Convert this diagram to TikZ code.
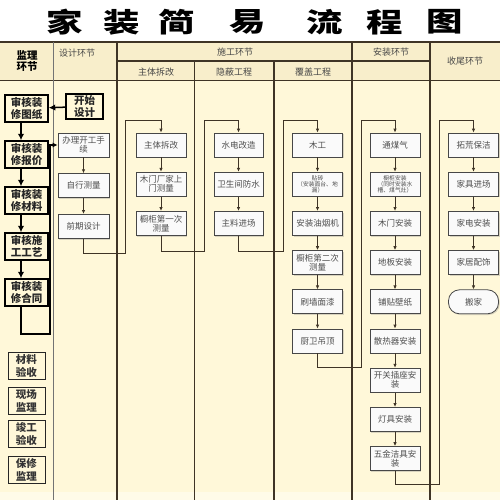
\documentclass[tikz,border=0pt]{standalone}
\usepackage{fontspec}
\setmainfont{Noto Sans CJK SC}
\usetikzlibrary{positioning,arrows.meta,shadows}
\definecolor{paper}{HTML}{FFF8D9}
\definecolor{headfill}{HTML}{F8EECB}
\definecolor{rule}{HTML}{3F3426}
\definecolor{boxtext}{HTML}{4E4E4E}
\tikzset{
  lane/.style={draw=rule, line width=1.1pt},
  headtext/.style={text=black!72, font=\fontsize{9}{10}\selectfont},
  stepbox/.style={draw=black!72, line width=0.8pt, fill=white!96!gray, text=boxtext,
    minimum width=50pt, minimum height=24pt, inner sep=1pt, align=center,
    font=\fontsize{8.5}{9}\selectfont,
    drop shadow={opacity=0.3, shadow xshift=1.2pt, shadow yshift=-1.2pt}},
  smallstep/.style={stepbox, font=\fontsize{5.8}{6.3}\selectfont},
  checkbox/.style={draw=black, line width=1.5pt, fill=paper, minimum width=43pt,
    minimum height=27pt, inner sep=1pt, align=center, text=black!85,
    font=\fontsize{10.5}{12.5}\selectfont\bfseries},
  watchbox/.style={draw=black!85, line width=1pt, fill=paper, minimum width=37pt,
    minimum height=27pt, inner sep=1pt, align=center, text=black!80,
    font=\fontsize{10.5}{12.5}\selectfont\bfseries},
  flow/.style={draw=rule, line width=0.9pt, -{Latex[length=4pt,width=3.5pt]}},
  bigflow/.style={draw=black, line width=1.5pt, -{Latex[length=6.5pt,width=6.5pt]}},
}
\begin{document}
\begin{tikzpicture}[x=1pt, y=-1pt, node distance=39.2pt]
\useasboundingbox (0,0) rectangle (500,500);
\fill[white] (0,0) rectangle (500,500);
% table
\fill[headfill] (0,42) rectangle (500,80);
\fill[paper] (0,80) rectangle (500,492);
\fill[paper!60!white] (0,492) rectangle (500,500);
\draw[lane, line width=1.6pt] (0,42) -- (500,42);
\draw[lane] (117,61) -- (430,61);
\draw[lane] (0,80.5) -- (500,80.5);
\draw[lane, draw=black!55] (53.5,42) -- (53.5,500);
\draw[lane] (117,42) -- (117,500);
\draw[lane] (194.5,61) -- (194.5,500);
\draw[lane] (274,61) -- (274,500);
\draw[lane] (352,42) -- (352,500);
\draw[lane] (430,42) -- (430,500);
% title
\node (t1) [font=\fontsize{27}{27}\selectfont\bfseries, xscale=1.35, transform shape] at (65,22) {家};
\node (t2) [font=\fontsize{27}{27}\selectfont\bfseries, xscale=1.35, transform shape] at (122,22) {装};
\node (t3) [font=\fontsize{27}{27}\selectfont\bfseries, xscale=1.35, transform shape] at (177,22) {简};
\node (t4) [font=\fontsize{27}{27}\selectfont\bfseries, xscale=1.35, transform shape] at (248,22) {易};
\node (t5) [font=\fontsize{27}{27}\selectfont\bfseries, xscale=1.35, transform shape] at (325,22) {流};
\node (t6) [font=\fontsize{27}{27}\selectfont\bfseries, xscale=1.35, transform shape] at (385,22) {程};
\node (t7) [font=\fontsize{27}{27}\selectfont\bfseries, xscale=1.35, transform shape] at (445,22) {图};
% header
\node (hjl) [align=center, font=\fontsize{10.5}{11.5}\selectfont\bfseries] at (27,61) {监理\\环节};
\node (hsj) [headtext] at (77,53) {设计环节};
\node (hsg) [headtext] at (235,52) {施工环节};
\node (hzt) [headtext] at (156,72) {主体拆改};
\node (hyb) [headtext] at (234,72) {隐蔽工程};
\node (hfg) [headtext] at (313,72) {覆盖工程};
\node (haz) [headtext] at (391,52) {安装环节};
\node (hsw) [headtext] at (465,61) {收尾环节};
% supervision
\node (c1) [checkbox] at (26.5,108.5) {审核装\\修图纸};
\node (c2) [checkbox, node distance=46pt, below of=c1] {审核装\\修报价};
\node (c3) [checkbox, node distance=46pt, below of=c2] {审核装\\修材料};
\node (c4) [checkbox, node distance=46pt, below of=c3] {审核施\\工工艺};
\node (c5) [checkbox, node distance=46pt, below of=c4] {审核装\\修合同};
\node (start) [checkbox, minimum width=37pt, minimum height=25pt] at (84.5,106.5) {开始\\设计};
\node (m1) [watchbox] at (26.5,366) {材料\\验收};
\node (m2) [watchbox, node distance=35pt, below of=m1] {现场\\监理};
\node (m3) [watchbox, node distance=33pt, below of=m2] {竣工\\验收};
\node (m4) [watchbox, node distance=36pt, below of=m3] {保修\\监理};
% design
\node (d1) [stepbox, minimum width=51pt] at (83.5,145) {办理开工手\\续};
\node (d2) [stepbox, minimum width=51pt, node distance=40.7pt, below of=d1] {自行测量};
\node (d3) [stepbox, minimum width=51pt, node distance=40.7pt, below of=d2] {前期设计};
% main structure
\node (z1) [stepbox] at (161,145) {主体拆改};
\node (z2) [stepbox, below of=z1] {木门厂家上\\门测量};
\node (z3) [stepbox, below of=z2] {橱柜第一次\\测量};
% hidden works
\node (y1) [stepbox, minimum width=49pt] at (238.5,145) {水电改造};
\node (y2) [stepbox, minimum width=49pt, below of=y1] {卫生间防水};
\node (y3) [stepbox, minimum width=49pt, below of=y2] {主料进场};
% cover works
\node (f1) [stepbox] at (317.5,145) {木工};
\node (f2) [smallstep, below of=f1] {贴砖\\（安装面台、地\\漏）};
\node (f3) [stepbox, below of=f2] {安装油烟机};
\node (f4) [stepbox, below of=f3] {橱柜第二次\\测量};
\node (f5) [stepbox, below of=f4] {刷墙面漆};
\node (f6) [stepbox, below of=f5] {厨卫吊顶};
% installation
\node (a1) [stepbox] at (395,145) {通煤气};
\node (a2) [smallstep, below of=a1] {橱柜安装\\（同时安装水\\槽、煤气灶）};
\node (a3) [stepbox, below of=a2] {木门安装};
\node (a4) [stepbox, below of=a3] {地板安装};
\node (a5) [stepbox, below of=a4] {铺贴壁纸};
\node (a6) [stepbox, below of=a5] {散热器安装};
\node (a7) [stepbox, below of=a6] {开关插座安\\装};
\node (a8) [stepbox, below of=a7] {灯具安装};
\node (a9) [stepbox, below of=a8] {五金洁具安\\装};
% finishing
\node (s1) [stepbox] at (473.5,145) {拓荒保洁};
\node (s2) [stepbox, below of=s1] {家具进场};
\node (s3) [stepbox, below of=s2] {家电安装};
\node (s4) [stepbox, below of=s3] {家居配饰};
\node (s5) [stepbox, rounded corners=11pt, below of=s4] {搬家};
% supervision arrows
\draw[bigflow] (start) to (c1);
\draw[bigflow] ([xshift=-5.5pt]c1.south) to ([xshift=-5.5pt]c2.north);
\draw[bigflow] ([xshift=-5.5pt]c2.south) to ([xshift=-5.5pt]c3.north);
\draw[bigflow] ([xshift=-5.5pt]c3.south) to ([xshift=-5.5pt]c4.north);
\draw[bigflow] ([xshift=-5.5pt]c4.south) to ([xshift=-5.5pt]c5.north);
\draw[bigflow, -{Latex[length=5pt,width=5pt]}] ([xshift=-5.5pt]c5.south) -- ++(0,27) -| (50,145) -- (d1.west);
% column arrows
\draw[flow] (d1) to (d2);
\draw[flow] (d2) to (d3);
\draw[flow] (z1) to (z2);
\draw[flow] (z2) to (z3);
\draw[flow] (y1) to (y2);
\draw[flow] (y2) to (y3);
\draw[flow] (f1) to (f2);
\draw[flow] (f2) to (f3);
\draw[flow] (f3) to (f4);
\draw[flow] (f4) to (f5);
\draw[flow] (f5) to (f6);
\draw[flow] (a1) to (a2);
\draw[flow] (a2) to (a3);
\draw[flow] (a3) to (a4);
\draw[flow] (a4) to (a5);
\draw[flow] (a5) to (a6);
\draw[flow] (a6) to (a7);
\draw[flow] (a7) to (a8);
\draw[flow] (a8) to (a9);
\draw[flow] (s1) to (s2);
\draw[flow] (s2) to (s3);
\draw[flow] (s3) to (s4);
\draw[flow] (s4) to (s5);
% between stages
\draw[flow] (d3.south) -- ++(0,15) -| (125,120) -| (z1.north);
\draw[flow] (z3.south) -- ++(0,16) -| (204,120) -| (y1.north);
\draw[flow] (y3.south) -- ++(0,16) -| (283,120) -| (f1.north);
\draw[flow] (f6.south) -- ++(0,14) -| (361,120) -| (a1.north);
\draw[flow] (a9.south) -- ++(0,13.5) -| (439,120) -| (s1.north);
\end{tikzpicture}
\end{document}
